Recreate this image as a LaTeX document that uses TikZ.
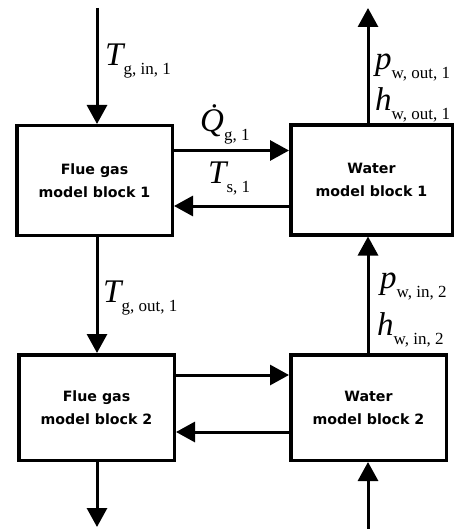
\documentclass[tikz,border=0pt]{standalone}
\usepackage{fontspec}
\setsansfont{DejaVu Sans}
\newfontfamily\labfont{Liberation Serif}
\usepackage{tikz}
\usetikzlibrary{arrows.meta}

% big italic symbol with a lowered upright subscript
\newcommand{\varlab}[2]{{\fontsize{33}{33}\selectfont\itshape #1}\raisebox{-9pt}{\fontsize{17}{17}\selectfont #2}}

\tikzset{
    block/.style={draw, line width=3.5pt, minimum width=155.5pt, inner sep=0pt, align=center,
        font=\sffamily\bfseries\fontsize{14.2}{23}\selectfont},
    flow/.style={line width=3pt, -{Triangle[length=19pt,width=20pt]}},
    lab/.style={anchor=base west, inner sep=0pt, font=\labfont},
}

\begin{document}
\begin{tikzpicture}[x=1pt, y=-1pt]
    \useasboundingbox (0,0) rectangle (469,529);
    % model blocks
    \node[block, minimum height=109.5pt] (fg1) at (94.5,180.5) {Flue gas\\model block 1};
    \node[block, minimum height=109.5pt, minimum width=161.5pt] (w1) at (371.5,180) {Water\\model block 1};
    \node[block, minimum height=105.5pt] (fg2) at (96.5,407.5) {Flue gas\\model block 2};
    \node[block, minimum height=105.5pt] (w2) at (368.5,407.5) {Water\\model block 2};
    % free ends
    \coordinate (gin) at (97,8);
    \coordinate (gout) at (97,527);
    \coordinate (win) at (368,529);
    \coordinate (wout) at (368,8);
    % vertical flows
    \draw[flow] (gin) -- (gin |- fg1.north);
    \draw[flow] (gin |- fg1.south) -- (gin |- fg2.north);
    \draw[flow] (gin |- fg2.south) -- (gout);
    \draw[flow] (win) -- (win |- w2.south);
    \draw[flow] (win |- w2.north) -- (win |- w1.south);
    \draw[flow] (win |- w1.north) -- (wout);
    % exchange between the blocks
    \foreach \fg/\w/\up/\dn in {fg1/w1/30/-26, fg2/w2/32.5/-24.5} {
        \draw[flow] ([yshift=\up pt]\fg.east) -- ([yshift=\up pt]\fg.east -| \w.west);
        \draw[flow] ([yshift=\dn pt]\w.west) -- ([yshift=\dn pt]\w.west -| \fg.east);
    }
    % labels
    \node[lab] (tgin) at (105,66) {\varlab{T}{g, in, 1}};
    \node[lab] (pout) at (375,70) {\varlab{p}{w, out, 1}};
    \node[lab] (hout) at (375,111) {\varlab{h}{w, out, 1}};
    \node[lab] (qg) at (200,132) {\varlab{\.{Q}}{g, 1}};
    \node[lab] (ts) at (208,184) {\varlab{T}{s, 1}};
    \node[lab] (tgout) at (103,302) {\varlab{T}{g, out, 1}};
    \node[lab] (pin) at (380,288) {\varlab{p}{w, in, 2}};
    \node[lab] (hin) at (377,335) {\varlab{h}{w, in, 2}};
\end{tikzpicture}
\end{document}
